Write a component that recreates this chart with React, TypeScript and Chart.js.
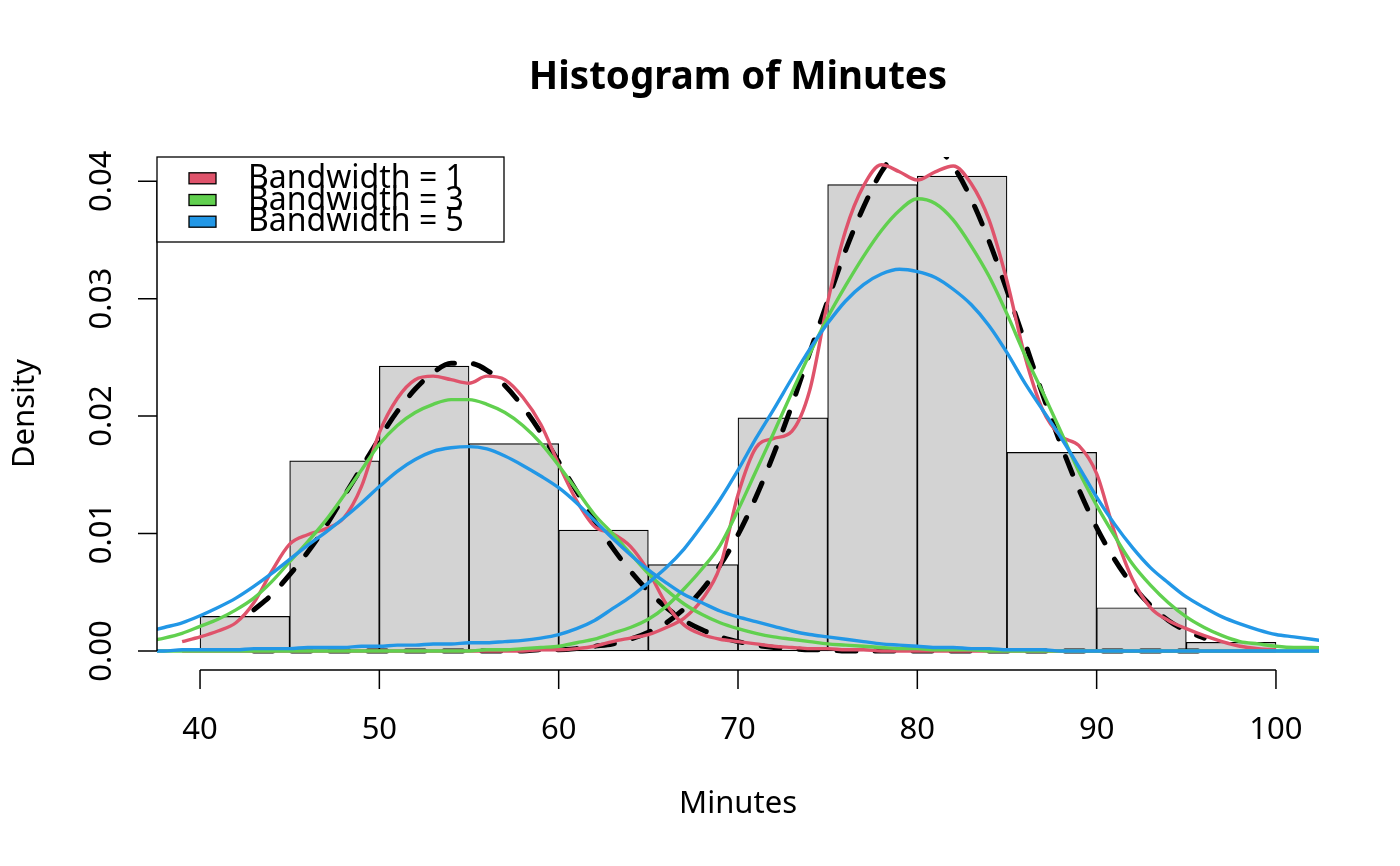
import { useEffect, useRef } from 'react';
import { Chart, registerables } from 'chart.js';

Chart.register(...registerables);

// histogram of waiting minutes: bin centres (width 5) and density heights
const binMids = [42.5, 47.5, 52.5, 57.5, 62.5, 67.5, 72.5, 77.5, 82.5, 87.5, 92.5, 97.5];
const binDensity = [0.00294, 0.01618, 0.02426, 0.01765, 0.01029, 0.00735, 0.01985, 0.03971, 0.04044, 0.01691, 0.00368, 0.00074];

// black dashed: fitted component curves
const blackX = [
  43, 44, 45, 46, 47, 48, 49, 50, 51, 52, 53, 54, 55, 56, 57, 58, 59, 60, 61, 62, 63, 64, 65, 66, 67, 68, 69,
  70, 71, 72, 73, 74, 75, 76, 77, 78, 79, 80, 81, 82, 83, 84, 85, 86, 87, 88, 89, 90, 91, 92, 93, 94, 95, 96,
];
const blackLeft = [
  0.0035, 0.0048, 0.0065, 0.0084, 0.0106, 0.0131, 0.0156, 0.0181, 0.0204, 0.0223, 0.0237, 0.0245, 0.0245, 0.0239,
  0.0226, 0.0208, 0.0186, 0.0161, 0.0136, 0.0111, 0.0088, 0.0068, 0.0051, 0.0037, 0.0026, 0.0018, 0.0012, 0.0008,
  0.0005, 0.0003, 0.0002, 0.0001, 0.0001, 0, 0, 0, 0, 0, 0, 0, 0, 0, 0, 0, 0, 0, 0, 0, 0, 0, 0, 0, 0, 0,
];
const blackRight = [
  0, 0, 0, 0, 0, 0, 0, 0, 0, 0, 0, 0, 0, 0, 0, 0, 0.0001, 0.0001, 0.0002, 0.0004, 0.0006, 0.001, 0.0016, 0.0024,
  0.0036, 0.0052, 0.0073, 0.0099, 0.0131, 0.0168, 0.0209, 0.0254, 0.0298, 0.0341, 0.0378, 0.0408, 0.0427, 0.0435,
  0.043, 0.0413, 0.0385, 0.0349, 0.0307, 0.0263, 0.0218, 0.0176, 0.0138, 0.0105, 0.0078, 0.0056, 0.0039, 0.0026,
  0.0017, 0.0011,
];

// bandwidth = 1
const redX = [
  39, 40, 41, 42, 43, 44, 45, 46, 47, 48, 49, 50, 51, 52, 53, 54, 55, 56, 57, 58, 59, 60, 61, 62, 63, 64, 65, 66,
  67, 68, 69, 70, 71, 72, 73, 74, 75, 76, 77, 78, 79, 80, 81, 82, 83, 84, 85, 86, 87, 88, 89, 90, 91, 92, 93, 94,
  95, 96, 97, 98, 99, 100,
];
const redLeft = [
  0.0008, 0.0012, 0.0017, 0.0024, 0.0041, 0.0068, 0.0091, 0.0099, 0.0104, 0.0113, 0.014, 0.0186, 0.0215, 0.0231,
  0.0234, 0.0231, 0.0228, 0.0234, 0.0231, 0.0216, 0.0193, 0.0159, 0.0128, 0.0106, 0.01, 0.0089, 0.0068, 0.004,
  0.0022, 0.0014, 0.001, 0.0008, 0.0006, 0.0004, 0.0003, 0.0002, 0.0002, 0.0001, 0.0001, 0, 0, 0, 0, 0, 0, 0, 0,
  0, 0, 0, 0, 0, 0, 0, 0, 0, 0, 0, 0, 0, 0, 0,
];
const redRight = [
  0, 0, 0, 0, 0, 0, 0, 0, 0, 0, 0, 0, 0, 0, 0, 0, 0, 0, 0, 0, 0.0001, 0.0001, 0.0002, 0.0004, 0.0008, 0.0011,
  0.0014, 0.002, 0.0028, 0.0044, 0.0072, 0.0133, 0.0173, 0.0181, 0.0187, 0.0222, 0.0297, 0.0358, 0.0396, 0.0414,
  0.0408, 0.0401, 0.0408, 0.0413, 0.0398, 0.0367, 0.0315, 0.0251, 0.0205, 0.0183, 0.0175, 0.0151, 0.0101, 0.0061,
  0.0037, 0.0026, 0.0019, 0.0013, 0.0008, 0.0004, 0.0002, 0.0001,
];

// bandwidth = 3 and 5 share one grid
const wideX = [
  37, 38, 39, 40, 41, 42, 43, 44, 45, 46, 47, 48, 49, 50, 51, 52, 53, 54, 55, 56, 57, 58, 59, 60, 61, 62, 63, 64,
  65, 66, 67, 68, 69, 70, 71, 72, 73, 74, 75, 76, 77, 78, 79, 80, 81, 82, 83, 84, 85, 86, 87, 88, 89, 90, 91, 92,
  93, 94, 95, 96, 97, 98, 99, 100, 101, 102, 103,
];
const greenLeft = [
  0.0008, 0.0011, 0.0015, 0.0021, 0.0027, 0.0035, 0.0045, 0.0059, 0.0076, 0.0093, 0.0111, 0.0132, 0.0154, 0.0176,
  0.0192, 0.0203, 0.021, 0.0214, 0.0214, 0.021, 0.0203, 0.0192, 0.0177, 0.0158, 0.0137, 0.0116, 0.01, 0.0083,
  0.0066, 0.0052, 0.004, 0.0031, 0.0024, 0.0019, 0.0015, 0.0012, 0.001, 0.0008, 0.0006, 0.0005, 0.0004, 0.0003,
  0.0002, 0.0002, 0.0001, 0.0001, 0.0001, 0, 0, 0, 0, 0, 0, 0, 0, 0, 0, 0, 0, 0, 0, 0, 0, 0, 0, 0, 0,
];
const greenRight = [
  0, 0, 0, 0, 0, 0, 0, 0, 0, 0, 0, 0, 0, 0, 0, 0, 0, 0, 0, 0.0001, 0.0001, 0.0002, 0.0003, 0.0004, 0.0007, 0.001,
  0.0015, 0.002, 0.0027, 0.0038, 0.0053, 0.007, 0.009, 0.012, 0.0153, 0.0186, 0.022, 0.0253, 0.0284, 0.0311,
  0.0336, 0.0358, 0.0375, 0.0385, 0.0381, 0.0367, 0.0345, 0.0319, 0.0287, 0.0252, 0.022, 0.0187, 0.0153, 0.0124,
  0.0098, 0.0074, 0.0056, 0.0041, 0.0029, 0.002, 0.0013, 0.0008, 0.0006, 0.0004, 0.0003, 0.0003, 0.0002,
];
const blueLeft = [
  0.0016, 0.002, 0.0024, 0.003, 0.0037, 0.0045, 0.0055, 0.0066, 0.0078, 0.009, 0.0101, 0.0113, 0.0126, 0.014,
  0.0153, 0.0163, 0.017, 0.0173, 0.0174, 0.0172, 0.0166, 0.0158, 0.0149, 0.0139, 0.0126, 0.0111, 0.0096, 0.0082,
  0.0069, 0.0058, 0.0048, 0.0041, 0.0034, 0.0029, 0.0025, 0.0021, 0.0017, 0.0014, 0.0012, 0.001, 0.0008, 0.0006,
  0.0005, 0.0004, 0.0003, 0.0003, 0.0002, 0.0002, 0.0001, 0.0001, 0.0001, 0, 0, 0, 0, 0, 0, 0, 0, 0, 0, 0, 0, 0,
  0, 0, 0,
];
const blueRight = [
  0, 0, 0.0001, 0.0001, 0.0001, 0.0001, 0.0002, 0.0002, 0.0002, 0.0003, 0.0003, 0.0003, 0.0004, 0.0004, 0.0005,
  0.0005, 0.0006, 0.0006, 0.0007, 0.0007, 0.0008, 0.0009, 0.0011, 0.0014, 0.0019, 0.0026, 0.0036, 0.0046, 0.0058,
  0.0071, 0.0087, 0.0107, 0.0129, 0.0154, 0.0181, 0.0206, 0.0232, 0.0257, 0.0279, 0.0298, 0.0312, 0.0321, 0.0325,
  0.0323, 0.0318, 0.0308, 0.0295, 0.0277, 0.0254, 0.0228, 0.0205, 0.0182, 0.0157, 0.0131, 0.0108, 0.0088, 0.0071,
  0.0058, 0.0046, 0.0037, 0.0029, 0.0023, 0.0018, 0.0014, 0.0012, 0.001, 0.0008,
];

const xTicks = [40, 50, 60, 70, 80, 90, 100];
const xTickLabels = ['40', '50', '60', '70', '80', '90', '100'];
const yTicks = [0, 0.01, 0.02, 0.03, 0.04];
const yTickLabels = ['0.00', '0.01', '0.02', '0.03', '0.04'];

const legendLabels = ['Bandwidth = 1', 'Bandwidth = 3', 'Bandwidth = 5'];
const RED = '#DF536B';
const GREEN = '#61D04F';
const BLUE = '#2297E6';
const legendColors = [RED, GREEN, BLUE];

const FONT = '"Noto Sans", "Open Sans", sans-serif';

function pts(xs: number[], ys: number[]) {
  return xs.map((x, i) => ({ x, y: ys[i] }));
}

function curve(xs: number[], ys: number[], color: string, order: number) {
  return {
    type: 'line' as const,
    data: pts(xs, ys),
    borderColor: color,
    borderWidth: 3.4,
    pointRadius: 0,
    fill: false,
    cubicInterpolationMode: 'monotone' as const,
    clip: 0,
    order,
  };
}

function dashed(xs: number[], ys: number[]) {
  return {
    type: 'line' as const,
    data: pts(xs, ys),
    borderColor: '#000000',
    borderWidth: 5,
    borderDash: [19, 19],
    borderCapStyle: 'round' as const,
    pointRadius: 0,
    fill: false,
    cubicInterpolationMode: 'monotone' as const,
    clip: 0,
    order: 9,
  };
}

// base-graphics look: axes, titles and legend drawn on top
const baseGraphics = {
  id: 'baseGraphics',
  afterDraw(chart: Chart) {
    const { ctx, chartArea, scales } = chart;
    const xs = scales['x'];
    const ys = scales['y'];
    const midX = (chartArea.left + chartArea.right) / 2;
    const midY = (chartArea.top + chartArea.bottom) / 2;
    ctx.save();
    ctx.strokeStyle = '#000';
    ctx.fillStyle = '#000';
    ctx.lineWidth = 1.5;

    // x axis
    const ax = chartArea.bottom;
    ctx.beginPath();
    ctx.moveTo(xs.getPixelForValue(xTicks[0]), ax);
    ctx.lineTo(xs.getPixelForValue(xTicks[xTicks.length - 1]), ax);
    xTicks.forEach(v => {
      const p = xs.getPixelForValue(v);
      ctx.moveTo(p, ax);
      ctx.lineTo(p, ax + 19);
    });
    // y axis
    const ay = chartArea.left;
    ctx.moveTo(ay, ys.getPixelForValue(yTicks[0]));
    ctx.lineTo(ay, ys.getPixelForValue(yTicks[yTicks.length - 1]));
    yTicks.forEach(v => {
      const p = ys.getPixelForValue(v);
      ctx.moveTo(ay, p);
      ctx.lineTo(ay - 19, p);
    });
    ctx.stroke();

    ctx.font = `31px ${FONT}`;
    ctx.textAlign = 'center';
    ctx.textBaseline = 'alphabetic';
    xTicks.forEach((v, i) => ctx.fillText(xTickLabels[i], xs.getPixelForValue(v), 739));
    yTicks.forEach((v, i) => {
      ctx.save();
      ctx.translate(111, ys.getPixelForValue(v));
      ctx.rotate(-Math.PI / 2);
      ctx.fillText(yTickLabels[i], 0, 0);
      ctx.restore();
    });

    // axis titles
    ctx.fillText('Minutes', midX, 813);
    ctx.save();
    ctx.translate(34, midY);
    ctx.rotate(-Math.PI / 2);
    ctx.fillText('Density', 0, 0);
    ctx.restore();

    // main title
    ctx.font = `bold 38.5px ${FONT}`;
    ctx.fillText('Histogram of Minutes', midX, 89);

    // legend (topleft)
    const lx = chartArea.left;
    const ly = chartArea.top;
    ctx.fillStyle = '#fff';
    ctx.fillRect(lx, ly, 347, 85);
    ctx.lineWidth = 1.3;
    ctx.strokeRect(lx, ly, 347, 85);
    ctx.font = `32px ${FONT}`;
    ctx.textAlign = 'left';
    legendLabels.forEach((label, i) => {
      const cy = ly + 21.3 + i * 21.7;
      ctx.fillStyle = legendColors[i];
      ctx.fillRect(lx + 32, cy - 5.5, 27, 11);
      ctx.strokeRect(lx + 32, cy - 5.5, 27, 11);
      ctx.fillStyle = '#000';
      ctx.fillText(label, lx + 91, cy + 9.5);
    });
    ctx.restore();
  },
};

export default function App() {
  const canvasRef = useRef<HTMLCanvasElement>(null);

  useEffect(() => {
    document.body.style.margin = '0';
    document.body.style.background = '#fff';
    if (!canvasRef.current) return;
    const chart = new Chart(canvasRef.current, {
      type: 'bar',
      data: {
        datasets: [
          {
            type: 'bar',
            data: pts(binMids, binDensity),
            backgroundColor: '#D3D3D3',
            borderColor: '#000000',
            borderWidth: 1.2,
            borderSkipped: false,
            barPercentage: 1,
            categoryPercentage: 1,
            grouped: false,
            order: 10,
          },
          dashed(blackX, blackLeft),
          dashed(blackX, blackRight),
          curve(redX, redLeft, RED, 8),
          curve(redX, redRight, RED, 7),
          curve(wideX, greenLeft, GREEN, 6),
          curve(wideX, greenRight, GREEN, 5),
          curve(wideX, blueLeft, BLUE, 4),
          curve(wideX, blueRight, BLUE, 3),
        ] as any,
      },
      options: {
        animation: false,
        responsive: true,
        maintainAspectRatio: false,
        layout: { padding: { left: 157, right: 81, top: 157, bottom: 196 } },
        plugins: {
          legend: { display: false },
          title: { display: false },
          tooltip: { enabled: false },
        },
        scales: {
          // ticks every 5 without the range ends, so bar width = bin width
          x: {
            type: 'linear', min: 37.6, max: 102.4, offset: false, display: false,
            ticks: { stepSize: 5, includeBounds: false },
          },
          y: { type: 'linear', min: -0.00162, max: 0.04206, display: false },
        },
      },
      plugins: [baseGraphics],
    });
    return () => { chart.destroy(); };
  }, []);

  return (
    <div style={{ width: 1400, height: 866, position: 'relative', background: '#fff' }}>
      <canvas ref={canvasRef} />
    </div>
  );
}
